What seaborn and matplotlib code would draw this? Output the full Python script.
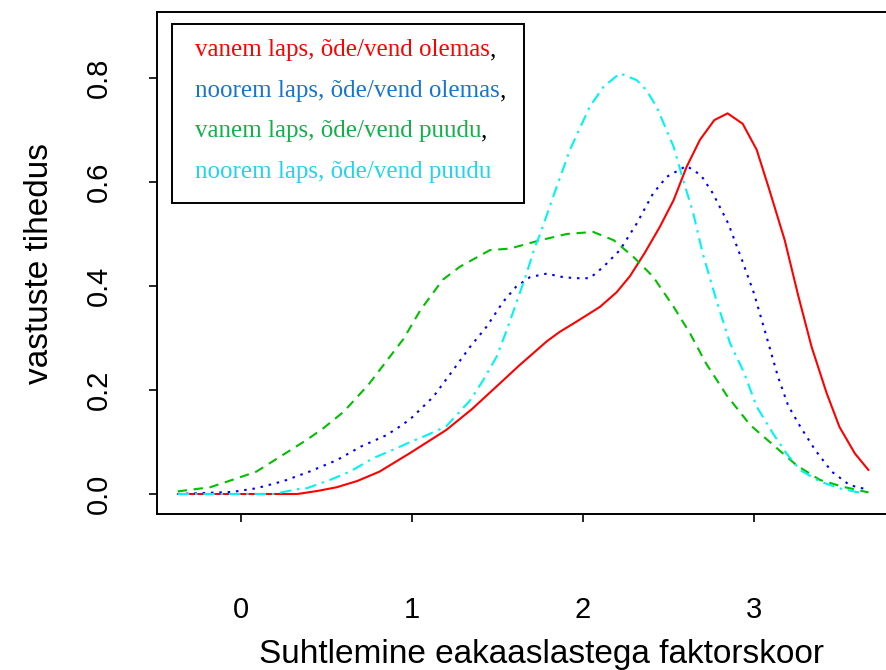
import matplotlib
matplotlib.use("Agg")
import matplotlib.pyplot as plt
import seaborn as sns
import pandas as pd
from matplotlib.patches import Rectangle

# density curves
red_x = [-0.37, 0.33, 0.45, 0.56, 0.68, 0.81, 0.99, 1.2, 1.35, 1.515, 1.63, 1.79, 1.865, 1.96,
         2.1, 2.197, 2.275, 2.36, 2.45, 2.53, 2.606, 2.684, 2.768, 2.846, 2.934, 3.016, 3.09,
         3.18, 3.26, 3.337, 3.425, 3.50, 3.59, 3.67]
red_y = [0, 0, 0.006, 0.013, 0.025, 0.043, 0.079, 0.123, 0.163, 0.213, 0.248, 0.294, 0.312, 0.331,
         0.36, 0.388, 0.419, 0.463, 0.514, 0.565, 0.629, 0.681, 0.719, 0.732, 0.712, 0.662, 0.585,
         0.488, 0.38, 0.283, 0.194, 0.129, 0.078, 0.046]

blue_x = [-0.37, -0.05, 0.09, 0.25, 0.40, 0.56, 0.70, 0.85, 0.93, 0.99, 1.125, 1.24, 1.34, 1.437,
          1.534, 1.61, 1.69, 1.79, 1.865, 1.95, 2.04, 2.12, 2.216, 2.314, 2.41, 2.49, 2.606, 2.69,
          2.76, 2.85, 2.93, 3.0, 3.074, 3.14, 3.2, 3.27, 3.357, 3.455, 3.56, 3.67]
blue_y = [0, 0.004, 0.011, 0.025, 0.043, 0.065, 0.091, 0.113, 0.13, 0.144, 0.187, 0.238, 0.283, 0.322,
          0.37, 0.399, 0.417, 0.424, 0.418, 0.415, 0.415, 0.437, 0.469, 0.52, 0.578, 0.61, 0.631, 0.613,
          0.578, 0.52, 0.45, 0.386, 0.302, 0.226, 0.17, 0.13, 0.085, 0.043, 0.017, 0.008]

green_x = [-0.37, -0.18, -0.025, 0.09, 0.23, 0.384, 0.48, 0.60, 0.745, 0.95, 1.05, 1.18, 1.28, 1.456,
           1.573, 1.75, 1.905, 2.06, 2.18, 2.295, 2.41, 2.53, 2.626, 2.72, 2.84, 2.977, 3.11, 3.25,
           3.386, 3.52, 3.67]
green_y = [0.005, 0.013, 0.03, 0.043, 0.072, 0.104, 0.126, 0.158, 0.21, 0.298, 0.354, 0.412, 0.437, 0.469,
           0.472, 0.488, 0.5, 0.504, 0.488, 0.456, 0.418, 0.36, 0.309, 0.251, 0.19, 0.133, 0.095, 0.055,
           0.027, 0.014, 0.003]

cyan_x = [-0.37, 0.19, 0.326, 0.384, 0.52, 0.637, 0.774, 0.91, 0.99, 1.086, 1.2, 1.34, 1.417, 1.495,
          1.554, 1.61, 1.67, 1.72, 1.75, 1.826, 1.924, 2.04, 2.12, 2.216, 2.314, 2.37, 2.43, 2.53,
          2.586, 2.645, 2.70, 2.78, 2.86, 2.94, 3.016, 3.11, 3.19, 3.27, 3.386, 3.5, 3.64]
cyan_y = [0, 0, 0.009, 0.011, 0.027, 0.043, 0.069, 0.088, 0.1, 0.113, 0.13, 0.18, 0.219, 0.264,
          0.315, 0.367, 0.424, 0.476, 0.5, 0.572, 0.662, 0.745, 0.783, 0.809, 0.796, 0.777, 0.745, 0.668,
          0.604, 0.54, 0.463, 0.373, 0.29, 0.235, 0.168, 0.117, 0.078, 0.046, 0.024, 0.011, 0.001]

labels = ["vanem laps, õde/vend olemas", "noorem laps, õde/vend olemas",
          "vanem laps, õde/vend puudu", "noorem laps, õde/vend puudu"]
line_colors = ["#FF0000", "#0000FF", "#00C000", "#00F4F4"]
text_colors = ["#FF0000", "#1874CD", "#12B04A", "#22D3F0"]
styles = ["-", (0, (1.2, 2.8)), (0, (4.5, 3.2)), (0, (5.5, 2.8, 1.2, 2.8))]
x_ticks = [0, 1, 2, 3]
y_ticks = [0.0, 0.2, 0.4, 0.6, 0.8]

sns.set_style("ticks")
plt.rcParams["font.family"] = ["Liberation Sans", "DejaVu Sans"]
plt.rcParams["text.color"] = "black"

fig = plt.figure(figsize=(8.87, 6.7), dpi=100)
W, H = 887, 670
ax = fig.add_axes([157 / W, (H - 514) / H, 743 / W, 502 / H])

series = [(red_x, red_y), (blue_x, blue_y), (green_x, green_y), (cyan_x, cyan_y)]
for (xs, ys), col, ls in zip(series, line_colors, styles):
    df = pd.DataFrame({"x": xs, "y": ys})
    sns.lineplot(data=df, x="x", y="y", color=col, linestyle=ls, linewidth=1.5, ax=ax, sort=False)

# 171 px per x unit, 520 px per y unit
ax.set_xlim(-0.491, -0.491 + 743 / 171)
ax.set_ylim((494 - 514) / 520, (494 - 12) / 520)
ax.set_xticks(x_ticks)
ax.set_xticklabels([str(v) for v in x_ticks])
ax.set_yticks(y_ticks)
ax.set_yticklabels([f"{v:.1f}" for v in y_ticks], rotation=90, va="center")
ax.tick_params(axis="both", direction="out", length=6, width=1.2, colors="black",
               labelcolor="black", labelsize=21)
ax.tick_params(axis="x", pad=53)
ax.tick_params(axis="y", pad=26)
for s in ax.spines.values():
    s.set_linewidth(1.4)
    s.set_color("black")

ax.set_xlabel("")
ax.set_ylabel("")
fig.text(542 / W, 1 - 655 / H, "Suhtlemine eakaaslastega faktorskoor",
         ha="center", va="center", fontsize=24, color="black")
fig.text(40 / W, 1 - 263 / H, "vastuste tihedus", rotation=90,
         ha="center", va="center", fontsize=24, color="black")

# legend box drawn by hand (coloured text, black commas)
x0, x1 = (172 - 157) / 743, (524 - 157) / 743
yb, yt = (514 - 203) / 502, (514 - 24) / 502
ax.add_patch(Rectangle((x0, yb), x1 - x0, yt - yb, transform=ax.transAxes,
                       facecolor="white", edgecolor="black", linewidth=1.4, zorder=5))
rows = [50, 91, 131, 172]
for i, (lab, tc, ry) in enumerate(zip(labels, text_colors, rows)):
    t = ax.text((195 - 157) / 743, (514 - ry) / 502, lab, color=tc, transform=ax.transAxes,
                ha="left", va="center", fontsize=18, family="Liberation Serif", zorder=6)
    if i < 3:
        ax.annotate(",", xy=(1, 0), xycoords=t, ha="left", va="bottom",
                    fontsize=18, family="Liberation Serif", color="black", zorder=6)

fig.savefig("out.png", dpi=100)
